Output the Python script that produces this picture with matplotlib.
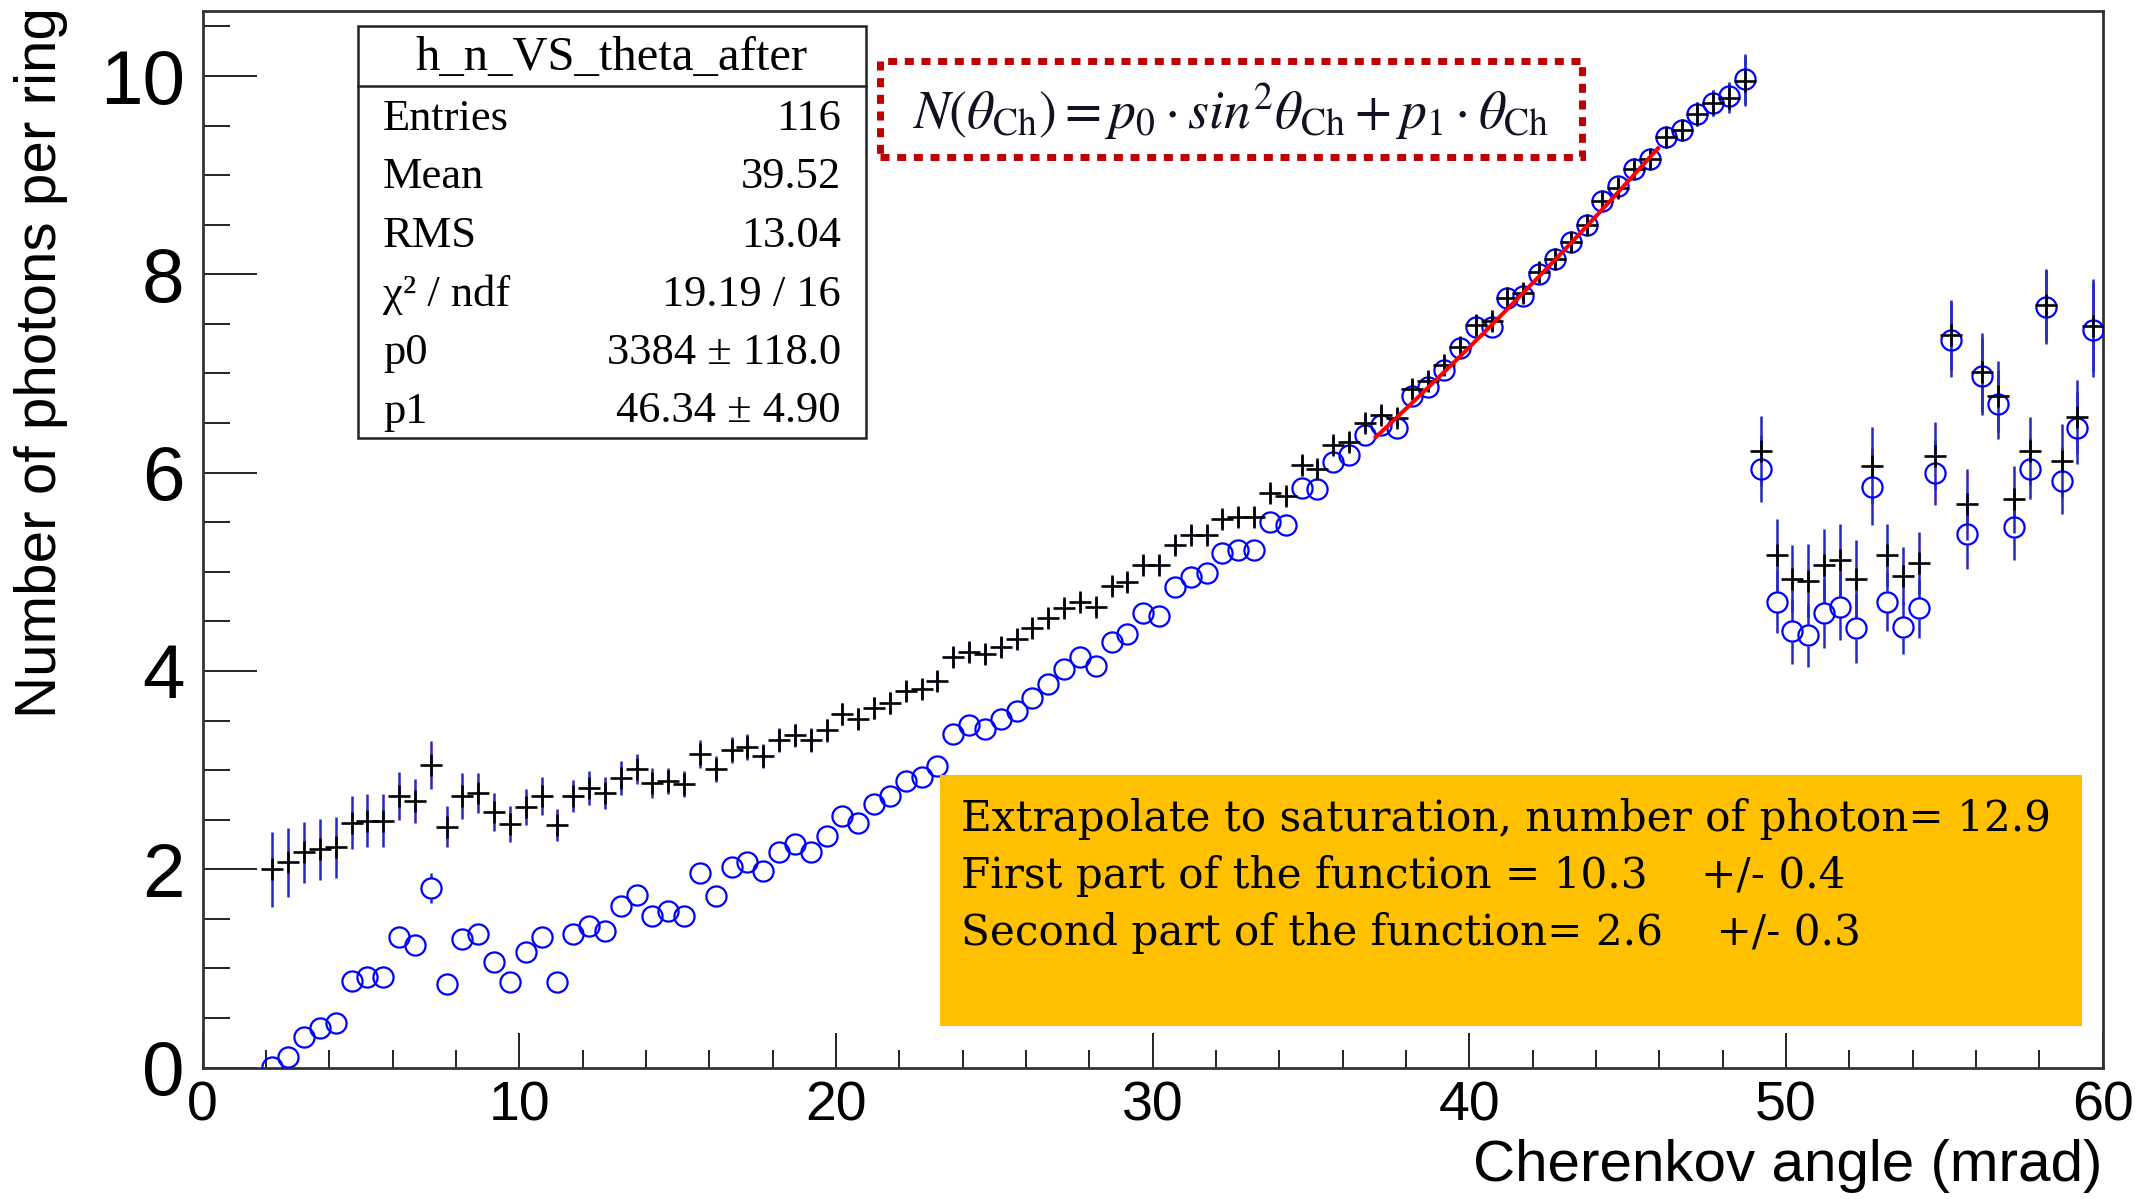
import numpy as np
import matplotlib
matplotlib.use("Agg")
import matplotlib.pyplot as plt
from matplotlib.patches import Rectangle
from matplotlib.lines import Line2D
from matplotlib.collections import LineCollection
from matplotlib.ticker import MultipleLocator

# ---------------------------------------------------------------- data
# histogram binning (mrad)
bin_low = 1.95
bin_width = 0.5

# number of photons per ring, first histogram (crosses)
n_raw = [
    2.00, 2.07, 2.17, 2.20, 2.22, 2.47, 2.49, 2.49, 2.74, 2.69, 3.05, 2.43, 2.74, 2.77,
    2.58, 2.46, 2.63, 2.74, 2.45, 2.74, 2.82, 2.77, 2.92, 3.01, 2.87, 2.89, 2.86, 3.16,
    3.01, 3.20, 3.23, 3.14, 3.30, 3.35, 3.30, 3.40, 3.57, 3.52, 3.63, 3.68, 3.80, 3.82,
    3.90, 4.14, 4.19, 4.17, 4.24, 4.32, 4.43, 4.53,
    4.63, 4.70, 4.65, 4.86, 4.90, 5.07, 5.07, 5.27, 5.37, 5.37, 5.53, 5.55, 5.55, 5.79,
    5.76, 6.08, 6.04, 6.28, 6.31, 6.50, 6.58, 6.55, 6.84,
    6.92, 7.09, 7.27, 7.49, 7.53, 7.76, 7.81, 8.02, 8.15, 8.33, 8.50, 8.74, 8.87, 9.06,
    9.16, 9.38, 9.46, 9.62, 9.73, 9.78, 9.95,
    6.22, 5.17, 4.93, 4.91, 5.07, 5.12, 4.93, 6.07, 5.17, 4.96, 5.09, 6.17, 7.39, 5.68,
    7.01, 6.77, 5.73, 6.22, 7.69, 6.12, 6.56, 7.48,
]
n_raw_err = [
    0.38, 0.35, 0.31, 0.31, 0.31, 0.27, 0.27, 0.27, 0.24, 0.22, 0.24, 0.21, 0.23, 0.20,
    0.19, 0.18, 0.18, 0.19, 0.16, 0.16, 0.17, 0.16, 0.17, 0.15, 0.15, 0.13, 0.13, 0.14,
    0.13, 0.13, 0.13, 0.12, 0.12, 0.12, 0.12, 0.12, 0.11, 0.11, 0.11, 0.11, 0.10, 0.10,
    0.10, 0.10, 0.10, 0.10, 0.10, 0.10, 0.10, 0.10,
    0.09, 0.09, 0.09, 0.09, 0.09, 0.09, 0.09, 0.09, 0.09, 0.09, 0.09, 0.09, 0.09, 0.09,
    0.09, 0.09, 0.09, 0.09, 0.09, 0.09, 0.09, 0.09, 0.09,
    0.09, 0.09, 0.09, 0.09, 0.09, 0.09, 0.09, 0.09, 0.09, 0.09, 0.09, 0.09, 0.09, 0.09,
    0.09, 0.09, 0.10, 0.12, 0.13, 0.15, 0.25,
    0.35, 0.36, 0.34, 0.37, 0.36, 0.36, 0.39, 0.39, 0.31, 0.29, 0.31, 0.34, 0.35, 0.36,
    0.40, 0.36, 0.34, 0.34, 0.36, 0.37, 0.37, 0.47,
]

# number of photons per ring, h_n_VS_theta_after (open circles)
n_after = [
    0.01, 0.11, 0.31, 0.40, 0.45, 0.87, 0.91, 0.91, 1.32, 1.24, 1.81, 0.84, 1.30, 1.35,
    1.06, 0.86, 1.17, 1.32, 0.86, 1.35, 1.43, 1.38, 1.63, 1.74, 1.53, 1.58, 1.53, 1.96,
    1.73, 2.02, 2.07, 1.98, 2.17, 2.25, 2.17, 2.34, 2.54, 2.47, 2.66, 2.74, 2.89, 2.93,
    3.04, 3.36, 3.45, 3.41, 3.52, 3.60, 3.73, 3.87,
    4.02, 4.14, 4.05, 4.29, 4.37, 4.58, 4.55, 4.85, 4.95, 4.99, 5.19, 5.22, 5.22, 5.50,
    5.47, 5.85, 5.83, 6.11, 6.18, 6.38, 6.48, 6.45, 6.77,
    6.86, 7.04, 7.26, 7.47, 7.47, 7.76, 7.78, 8.00, 8.15, 8.33, 8.50, 8.74, 8.89, 9.06,
    9.16, 9.38, 9.46, 9.62, 9.73, 9.80, 9.97,
    6.04, 4.70, 4.40, 4.36, 4.58, 4.65, 4.43, 5.86, 4.70, 4.44, 4.63, 6.00, 7.34, 5.38,
    6.97, 6.69, 5.45, 6.04, 7.67, 5.92, 6.45, 7.44,
]
n_after_err = [
    0.06, 0.06, 0.06, 0.06, 0.06, 0.07, 0.07, 0.07, 0.08, 0.08, 0.15, 0.07, 0.08, 0.08,
    0.07, 0.07, 0.07, 0.08, 0.07, 0.08, 0.08, 0.08, 0.08, 0.08, 0.08, 0.08, 0.08, 0.08,
    0.08, 0.08, 0.08, 0.08, 0.08, 0.08, 0.08, 0.08, 0.08, 0.08, 0.08, 0.08, 0.08, 0.08,
    0.08, 0.08, 0.08, 0.08, 0.08, 0.08, 0.08, 0.08,
    0.08, 0.08, 0.08, 0.08, 0.08, 0.08, 0.08, 0.08, 0.08, 0.08, 0.08, 0.08, 0.08, 0.08,
    0.08, 0.08, 0.08, 0.08, 0.08, 0.08, 0.08, 0.08, 0.08,
    0.08, 0.08, 0.08, 0.08, 0.08, 0.08, 0.08, 0.08, 0.08, 0.08, 0.08, 0.08, 0.08, 0.08,
    0.08, 0.08, 0.10, 0.12, 0.13, 0.14, 0.25,
    0.34, 0.32, 0.33, 0.32, 0.35, 0.34, 0.35, 0.39, 0.30, 0.27, 0.30, 0.33, 0.38, 0.35,
    0.39, 0.35, 0.33, 0.31, 0.37, 0.34, 0.36, 0.48,
]

# fit N(theta) = p0 sin^2(theta) + p1 theta, theta in rad
fit_p0 = 3384.0
fit_p1 = 46.34
fit_range = (37.0, 46.0)

stats_title = "h_n_VS_theta_after"
stats_labels = ["Entries", "Mean", "RMS", "\u03c7\u00b2 / ndf", "p0", "p1"]
stats_values = ["116", "39.52", "13.04", "19.19 / 16", "3384 \u00b1 118.0", "46.34 \u00b1 4.90"]

formula = (r"$N(\theta_{\mathrm{Ch}}) = p_0\cdot sin^2\theta_{\mathrm{Ch}}"
           r" + p_1\cdot\theta_{\mathrm{Ch}}$")
summary_lines = [
    "Extrapolate to saturation, number of photon= 12.9",
    "First part of the function = 10.3    +/- 0.4",
    "Second part of the function= 2.6    +/- 0.3",
]

# ---------------------------------------------------------------- figure
W, H = 2146, 1199
DPI = 100
plt.rcParams["font.family"] = ["Liberation Sans", "DejaVu Sans"]
plt.rcParams["mathtext.fontset"] = "stix"

fig = plt.figure(figsize=(W / DPI, H / DPI), dpi=DPI)
fig.patch.set_facecolor("white")


def fx(x):
    return x / W


def fy(y):
    return 1 - y / H


ax_left, ax_right, ax_top, ax_bottom = 202.7, 2102.7, 11.0, 1067.6
px_per_unit = 99.16
y_top = (ax_bottom - ax_top) / px_per_unit
ax = fig.add_axes([fx(ax_left), fy(ax_bottom),
                   (ax_right - ax_left) / W, (ax_bottom - ax_top) / H])
ax.set_xlim(0, 60)
ax.set_ylim(0, y_top)

theta = bin_low + bin_width * (np.arange(len(n_raw)) + 0.5)

err_col = "#2626c4"
circle_ms = 14.5
circle_mew = 1.6

# error bars of the crosses
ax.errorbar(theta, n_raw, yerr=n_raw_err, fmt="none", ecolor=err_col,
            elinewidth=1.8, capsize=0, zorder=2)

# error bars of the circles stop at the marker outline
r_data = (circle_ms / 2 * DPI / 72 + 0.5) / px_per_unit
segs = []
for xi, yi, ei in zip(theta, n_after, n_after_err):
    if ei > r_data:
        segs.append([(xi, yi + r_data), (xi, yi + ei)])
        segs.append([(xi, yi - ei), (xi, yi - r_data)])
ax.add_collection(LineCollection(segs, colors=err_col, linewidths=1.8, zorder=2))

ax.plot(theta, n_after, linestyle="none", marker="o", mfc="none", mec="#0000ff",
        ms=circle_ms, mew=circle_mew, zorder=3)
ax.plot(theta, n_raw, linestyle="none", marker="+", color="black",
        ms=16.5, mew=1.9, zorder=4)

th_fit = np.linspace(fit_range[0], fit_range[1], 200)
n_fit = fit_p0 * np.sin(th_fit / 1000.0) ** 2 + fit_p1 * th_fit / 1000.0
ax.plot(th_fit, n_fit, color="#ff0000", lw=2.9, zorder=5, solid_capstyle="butt")

# ROOT-like axes: inward ticks on left and bottom only
ax.xaxis.set_major_locator(MultipleLocator(10))
ax.xaxis.set_minor_locator(MultipleLocator(2))
ax.yaxis.set_major_locator(MultipleLocator(2))
ax.yaxis.set_minor_locator(MultipleLocator(0.5))
ax.tick_params(which="both", direction="in", top=False, right=False, color="#222222")
ax.tick_params(axis="y", which="major", length=39, width=1.4, labelsize=55, pad=13)
ax.tick_params(axis="y", which="minor", length=19.5, width=1.4)
ax.tick_params(axis="x", which="major", length=25, width=1.4, labelsize=40, pad=9)
ax.tick_params(axis="x", which="minor", length=13, width=1.4)
for sp in ax.spines.values():
    sp.set_linewidth(2.0)
    sp.set_color("#333333")

fig.text(fx(2102), fy(1166), "Cherenkov angle (mrad)", ha="right", va="center",
         fontsize=42)
fig.text(fx(41), fy(7), "Number of photons per ring", ha="center", va="top",
         rotation=90, fontsize=42)

renderer = fig.canvas.get_renderer()


def fit_width(txt, target_px):
    w = txt.get_window_extent(renderer).width
    txt.set_fontsize(txt.get_fontsize() * target_px / w)


# statistics box
serif = ["Liberation Serif", "DejaVu Serif"]
sb_l, sb_r, sb_t, sb_b = 358, 866, 26, 438
fig.add_artist(Rectangle((fx(sb_l), fy(sb_b)), (sb_r - sb_l) / W, (sb_b - sb_t) / H,
                         transform=fig.transFigure, facecolor="white",
                         edgecolor="#222222", lw=1.8, zorder=6))
fig.add_artist(Line2D([fx(sb_l), fx(sb_r)], [fy(86), fy(86)],
                      transform=fig.transFigure, color="#222222", lw=1.8, zorder=7))
fig.text(fx((sb_l + sb_r) / 2), fy(70), stats_title, ha="center", va="baseline",
         fontsize=35, family=serif, zorder=8)
for i, (lab, val) in enumerate(zip(stats_labels, stats_values)):
    yb = 130 + 58.5 * i
    fig.text(fx(383), fy(yb), lab, ha="left", va="baseline", fontsize=32,
             family=serif, zorder=8)
    fig.text(fx(841), fy(yb), val, ha="right", va="baseline", fontsize=32,
             family=serif, zorder=8)

# formula in a dotted frame
fig.add_artist(Rectangle((fx(880), fy(157)), (1582 - 880) / W, (157 - 60.7) / H,
                         transform=fig.transFigure, facecolor="none",
                         edgecolor="#c00000", lw=5.0, linestyle=(0, (1.3, 1.1)),
                         zorder=6))
ftxt = fig.text(fx(1231), fy(112), formula, ha="center", va="center",
                fontsize=30, color="#111122", zorder=8)
fit_width(ftxt, 638)

# summary box
fig.add_artist(Rectangle((fx(940), fy(1026)), (2082 - 940) / W, (1026 - 775) / H,
                         transform=fig.transFigure, facecolor="#ffc000",
                         edgecolor="none", zorder=6))
slab = ["DejaVu Serif"]
stxt = []
for i, line in enumerate(summary_lines):
    t = fig.text(fx(961), fy(831 + 57 * i), line, ha="left", va="baseline",
                 fontsize=28, family=slab, color="black", zorder=8)
    stxt.append(t)
w0 = stxt[0].get_window_extent(renderer).width
for t in stxt:
    t.set_fontsize(t.get_fontsize() * 1088 / w0)

fig.savefig("out.png", dpi=DPI, facecolor="white")
